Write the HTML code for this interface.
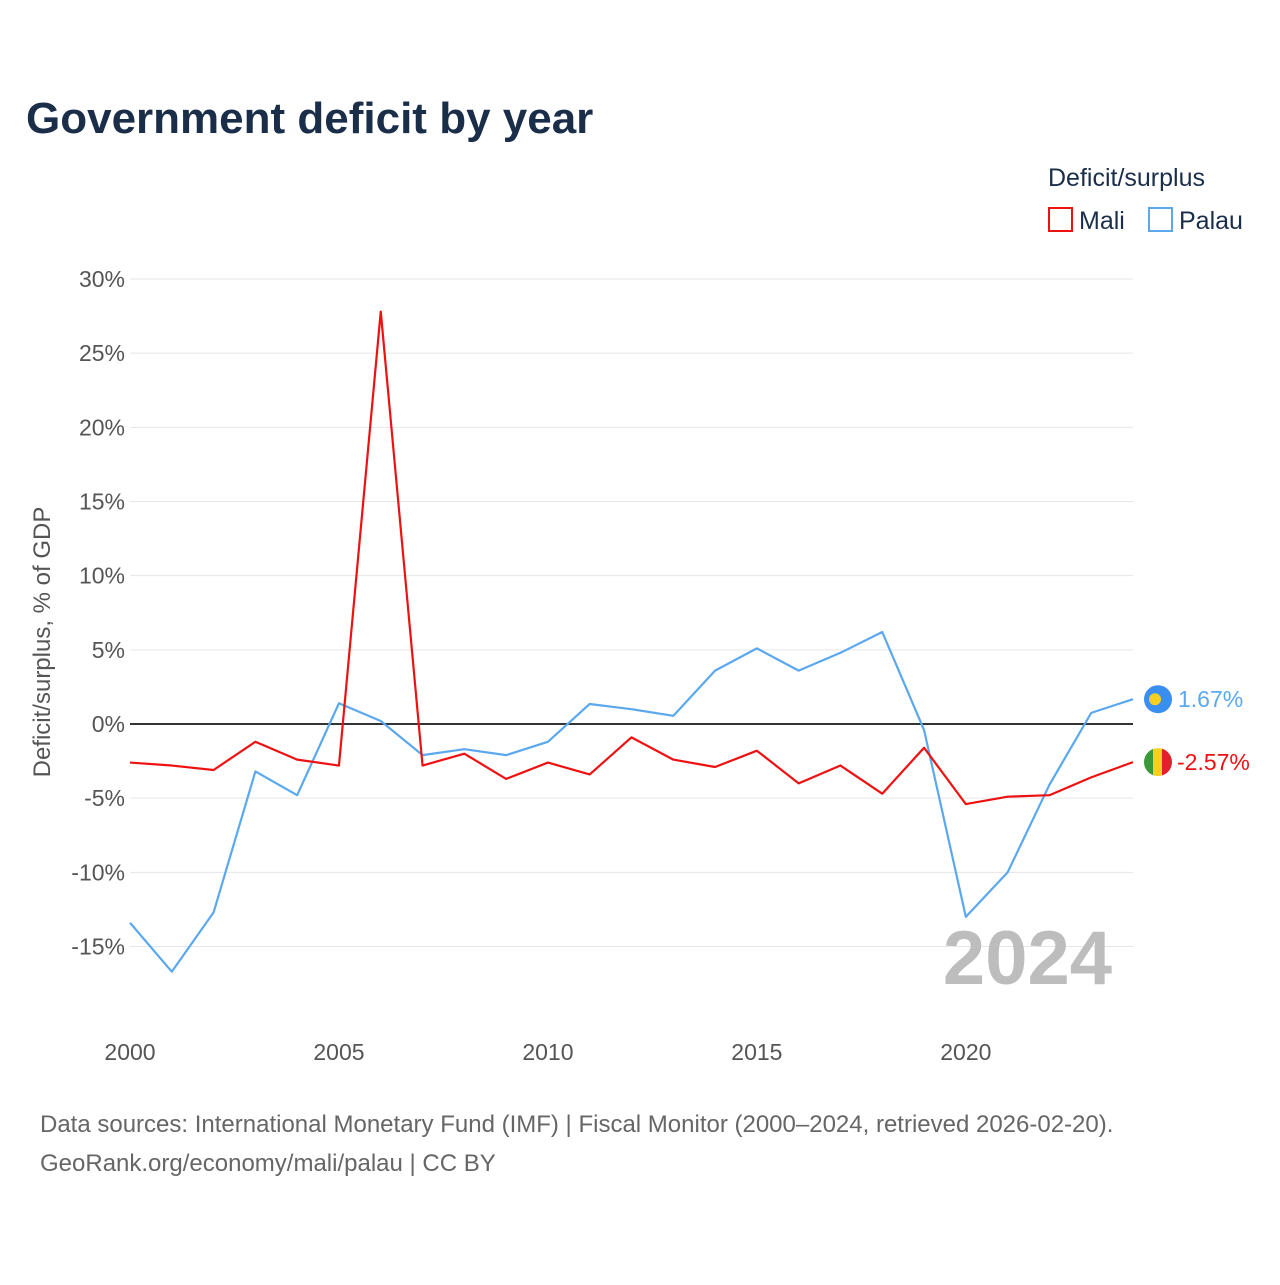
<!DOCTYPE html>
<html><head><meta charset="utf-8"><style>
body{margin:0;background:#fff;font-family:"Liberation Sans",sans-serif}
#wrap{position:relative;width:1280px;height:1280px}
</style></head><body>
<div id="wrap">
<svg id="chart" width="1280" height="1280" xmlns="http://www.w3.org/2000/svg">
<text x="26" y="133" font-size="44" font-weight="bold" fill="#1a2e4a">Government deficit by year</text>
<text x="1048" y="186" font-size="25" fill="#1a2e4a">Deficit/surplus</text>
<g><rect x="1049" y="208" width="23" height="23" fill="none" stroke="#ee1111" stroke-width="2"/><text x="1079" y="229" font-size="25" fill="#1a2e4a">Mali</text></g>
<g><rect x="1149" y="208" width="23" height="23" fill="none" stroke="#5ba8ee" stroke-width="2"/><text x="1179" y="229" font-size="25" fill="#1a2e4a">Palau</text></g>
<text transform="translate(50,642) rotate(-90)" text-anchor="middle" font-size="24" fill="#555">Deficit/surplus, % of GDP</text>
<g id="grid"></g><g id="xt"></g>
<text x="1112" y="984" text-anchor="end" font-size="76" font-weight="bold" fill="#bdbdbd">2024</text>
<g id="series"></g>
<text x="40" y="1132" font-size="24" fill="#666">Data sources: International Monetary Fund (IMF) | Fiscal Monitor (2000–2024, retrieved 2026-02-20).</text>
<text x="40" y="1171" font-size="24" fill="#666">GeoRank.org/economy/mali/palau | CC BY</text>
</svg></div>
<script>
const years=[2000,2001,2002,2003,2004,2005,2006,2007,2008,2009,2010,2011,2012,2013,2014,2015,2016,2017,2018,2019,2020,2021,2022,2023,2024];
const mali=[-2.6,-2.8,-3.1,-1.2,-2.4,-2.8,27.8,-2.8,-2.0,-3.7,-2.6,-3.4,-0.9,-2.4,-2.9,-1.8,-4.0,-2.8,-4.7,-1.6,-5.4,-4.9,-4.8,-3.6,-2.57];
const palau=[-13.4,-16.7,-12.7,-3.2,-4.8,1.4,0.2,-2.1,-1.7,-2.1,-1.2,1.35,1.0,0.55,3.6,5.1,3.6,4.8,6.2,-0.4,-13.0,-10.0,-4.1,0.75,1.67];
const yTicks=[30,25,20,15,10,5,0,-5,-10,-15];
const xTicks=[2000,2005,2010,2015,2020];
const NS="http://www.w3.org/2000/svg";
const x=v=>130+(v-2000)*(1133-130)/24;
const y=v=>724-v*(724-279)/30;
function mk(t,a,p){const e=document.createElementNS(NS,t);for(const k in a)e.setAttribute(k,a[k]);p.appendChild(e);return e;}
const grid=document.getElementById('grid');
yTicks.forEach(t=>{
  const l=mk('line',{x1:130,x2:1133,y1:y(t),y2:y(t),stroke:t===0?'#333':'#e6e6e6','stroke-width':t===0?2:1},grid);
  
  
  const tx=mk('text',{x:125,y:y(t)+8,'text-anchor':'end','font-size':23,fill:'#555'},grid);
  tx.textContent=t+'%';
  
  
});
const xt=document.getElementById('xt');
xTicks.forEach(t=>{
  const tx=mk('text',{x:x(t),y:1060,'text-anchor':'middle','font-size':23,fill:'#555'},xt);
  tx.textContent=t;
  
  
});
const sg=document.getElementById('series');
function line(vals,col,name){
  const p=mk('polyline',{points:vals.map((v,i)=>x(years[i])+','+y(v)).join(' '),fill:'none',stroke:col,'stroke-width':2.2,'stroke-linejoin':'round'},sg);
  
  
}
line(palau,'#5ba8ee','palau');
line(mali,'#ee1111','mali');
const last=years.length-1;
// Palau end marker
const pg=mk('g',{},sg);


mk('circle',{cx:1158,cy:y(palau[last]),r:14,fill:'#3a8ef0'},pg);
mk('circle',{cx:1155,cy:y(palau[last]),r:6,fill:'#f5d020'},pg);
const pt=mk('text',{x:1178,y:y(palau[last])+8,'font-size':23,fill:'#5ba8ee'},pg);pt.textContent=palau[last].toFixed(2)+'%';
// Mali end marker
const mg=mk('g',{},sg);


const my=y(mali[last]);
mk('defs',{},mg).innerHTML='<clipPath id="mc"><circle cx="1158" cy="'+my+'" r="14"/></clipPath>';
const cg=mk('g',{'clip-path':'url(#mc)'},mg);
mk('rect',{x:1144,y:my-14,width:10,height:28,fill:'#3a9a3a'},cg);
mk('rect',{x:1153,y:my-14,width:10,height:28,fill:'#f5d020'},cg);
mk('rect',{x:1162,y:my-14,width:10,height:28,fill:'#e0202a'},cg);
const mt=mk('text',{x:1177,y:my+8,'font-size':23,fill:'#ee1111'},mg);mt.textContent=mali[last].toFixed(2)+'%';
</script>
</body></html>
